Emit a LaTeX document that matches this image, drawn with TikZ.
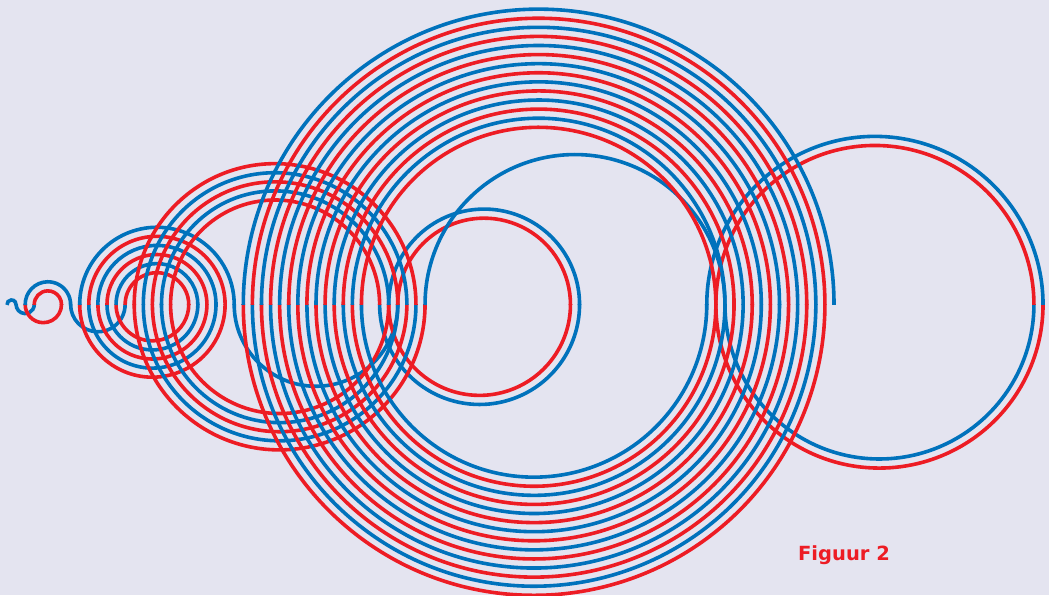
\documentclass[tikz,border=0pt]{standalone}
\usepackage{fontspec}
\setmainfont{DejaVu Sans}
\definecolor{bg}{RGB}{228,228,240}
\definecolor{rblue}{RGB}{0,114,188}
\definecolor{rred}{RGB}{237,28,36}
\tikzset{arcline/.style={line width=3.6pt, line cap=butt}}
\begin{document}
\begin{tikzpicture}[x=1pt,y=1pt]
\fill[bg] (0,0) rectangle (1049,595);
\useasboundingbox (0,0) rectangle (1049,595);
\def\u{9.088}
\def\xo{7}
\def\ay{290.5}
% Recaman sequence: step n goes between a(n-1) and a(n); \lo = smaller of the two
\foreach \n/\lo in {1/0,2/1,3/3,4/2,5/2,6/7,7/13,8/12,9/12,10/11,11/11,12/10,13/10,14/9,15/9,16/8,17/8,18/25,19/43,20/42,21/42,22/41,23/18,24/18,25/17,26/17,27/16,28/16,29/15,30/15,31/14,32/14,33/46,34/79,35/78,36/78,37/77,38/39,39/39,40/38,41/38,42/37,43/37,44/36,45/36,46/35,47/35,48/34,49/34,50/33,51/33,52/32,53/32,54/31,55/31,56/30,57/30,58/29,59/29,60/28,61/28,62/27,63/27,64/26,65/26}{
  \pgfmathsetmacro\rr{\u*\n/2}
  \pgfmathsetmacro\cx{\xo+\u*\lo+\rr}
  \pgfmathsetmacro\dl{0.45/\rr*57.2958}
  \pgfmathtruncatemacro\m{mod(\n,4)}
  \ifcase\m \def\col{rred}\or \def\col{rblue}\or \def\col{rblue}\else \def\col{rred}\fi
  \ifodd\n
    \pgfmathsetmacro\sa{180+\dl}\pgfmathsetmacro\ea{-\dl}
  \else
    \pgfmathsetmacro\sa{180-\dl}\pgfmathsetmacro\ea{360+\dl}
  \fi
  \draw[arcline, draw=\col] ([shift={(\sa:\rr)}]\cx,\ay) arc[start angle=\sa, end angle=\ea, radius=\rr];
}
\node[font=\bfseries\fontsize{19.5}{22}\selectfont, text=rred] (fig) at (844,40) {Figuur 2};
\end{tikzpicture}
\end{document}
